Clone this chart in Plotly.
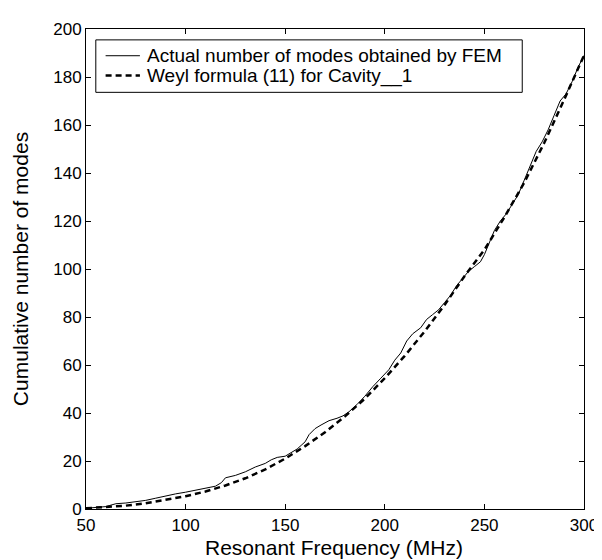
import plotly.graph_objects as go

# Resonant frequency (MHz) samples for the FEM staircase count
fem_freq = [50, 55, 60, 62, 65, 70, 75, 80, 85, 90, 95, 100, 105, 110, 115, 118, 120,
            125, 130, 135, 140, 143, 146, 150, 153, 156, 158, 160, 162, 165, 168, 172,
            176, 179, 182, 186, 190, 194, 198, 202, 205, 208, 211, 214, 218, 221, 224,
            227, 230, 233, 236, 239, 242, 245, 248, 250, 252, 255, 258, 261, 264, 267,
            270, 273, 276, 279, 282, 285, 288, 291, 294, 297, 300]
fem_modes = [0.3, 0.5, 1.0, 1.5, 2.2, 2.5, 3.0, 3.6, 4.5, 5.5, 6.3, 7.0, 7.8, 8.5, 9.5,
             11.0, 13.0, 14.0, 15.5, 17.5, 19.0, 20.5, 21.5, 22.0, 23.5, 25.0, 26.5,
             28.0, 31.0, 33.5, 35.0, 36.8, 37.8, 38.8, 40.5, 43.5, 47.0, 51.0, 54.5,
             58.0, 62.0, 65.0, 70.0, 73.0, 75.5, 79.0, 81.0, 83.0, 86.0, 89.0, 93.0,
             96.0, 99.0, 101.0, 103.0, 106.0, 110.0, 116.0, 120.0, 123.0, 127.0, 131.0,
             137.0, 143.0, 149.0, 153.0, 158.0, 164.0, 170.0, 173.0, 178.0, 184.0, 189.0]

# Weyl formula curve
weyl_freq = [50, 60, 70, 80, 90, 100, 110, 120, 130, 140, 150, 160, 170, 180, 190,
             200, 210, 220, 230, 240, 250, 260, 270, 280, 290, 300]
weyl_modes = [0.3, 0.8, 1.4, 2.4, 3.7, 5.3, 7.3, 9.8, 12.8, 16.5, 21.0, 26.2, 32.0,
              38.6, 46.0, 54.5, 63.8, 74.0, 85.0, 97.0, 108.0, 121.5, 136.0, 152.5,
              170.5, 189.0]

x_ticks = [50, 100, 150, 200, 250, 300]
y_ticks = [0, 20, 40, 60, 80, 100, 120, 140, 160, 180, 200]

legend_labels = ["Actual number of modes obtained by FEM",
                 "Weyl formula (11) for Cavity__1"]
x_title = "Resonant Frequency (MHz)"
y_title = "Cumulative number of modes"

FONT = "Liberation Sans, Arial, sans-serif"

W, H = 602, 560
ML, MR, MT, MB = 78, 16, 16, 59
PW, PH = W - ML - MR, H - MT - MB


def px(xp):
    return (xp - ML) / PW


def py(yp):
    return 1 - (yp - MT) / PH


fig = go.Figure()
fig.add_trace(go.Scatter(x=fem_freq, y=fem_modes, mode="lines",
                         line=dict(color="black", width=1),
                         name=legend_labels[0], showlegend=False))
fig.add_trace(go.Scatter(x=weyl_freq, y=weyl_modes, mode="lines",
                         line=dict(color="black", width=2.5, dash="6px,4px"),
                         name=legend_labels[1], showlegend=False))

# Legend box drawn in paper coordinates
shapes = [
    dict(type="rect", xref="paper", yref="paper",
         x0=px(88), x1=px(523), y0=py(80), y1=py(27),
         line=dict(color="black", width=1), fillcolor="white", layer="above"),
    dict(type="line", xref="paper", yref="paper",
         x0=px(98), x1=px(133), y0=py(43), y1=py(43),
         line=dict(color="black", width=1), layer="above"),
    dict(type="line", xref="paper", yref="paper",
         x0=px(98), x1=px(133), y0=py(63), y1=py(63),
         line=dict(color="black", width=2.5, dash="6px,4px"), layer="above"),
]
annotations = [
    dict(xref="paper", yref="paper", x=px(138), y=py(43), xanchor="left",
         yanchor="middle", showarrow=False, text=legend_labels[0],
         font=dict(family=FONT, size=19, color="black")),
    dict(xref="paper", yref="paper", x=px(138), y=py(63), xanchor="left",
         yanchor="middle", showarrow=False, text=legend_labels[1],
         font=dict(family=FONT, size=19, color="black")),
    dict(xref="paper", yref="paper", x=px(331), y=py(540), xanchor="center",
         yanchor="middle", showarrow=False, text=x_title,
         font=dict(family=FONT, size=21, color="black")),
]

axis_common = dict(showgrid=False, zeroline=False, showline=True, linecolor="black",
                   linewidth=1, mirror="ticks", ticks="inside", ticklen=5,
                   tickcolor="black", tickfont=dict(family=FONT, size=17, color="black"))

fig.update_layout(
    width=W, height=H,
    margin=dict(l=ML, r=MR, t=MT, b=MB),
    paper_bgcolor="white", plot_bgcolor="white",
    font=dict(family=FONT, color="black"),
    showlegend=False,
    shapes=shapes,
    annotations=annotations,
    xaxis=dict(range=[50, 300], tickvals=x_ticks, ticklabelstandoff=1, **axis_common),
    yaxis=dict(range=[0, 200], tickvals=y_ticks,
               title=dict(text=y_title,
                          font=dict(family=FONT, size=21, color="black"), standoff=18),
               **axis_common),
)

fig.write_html("out.html")
